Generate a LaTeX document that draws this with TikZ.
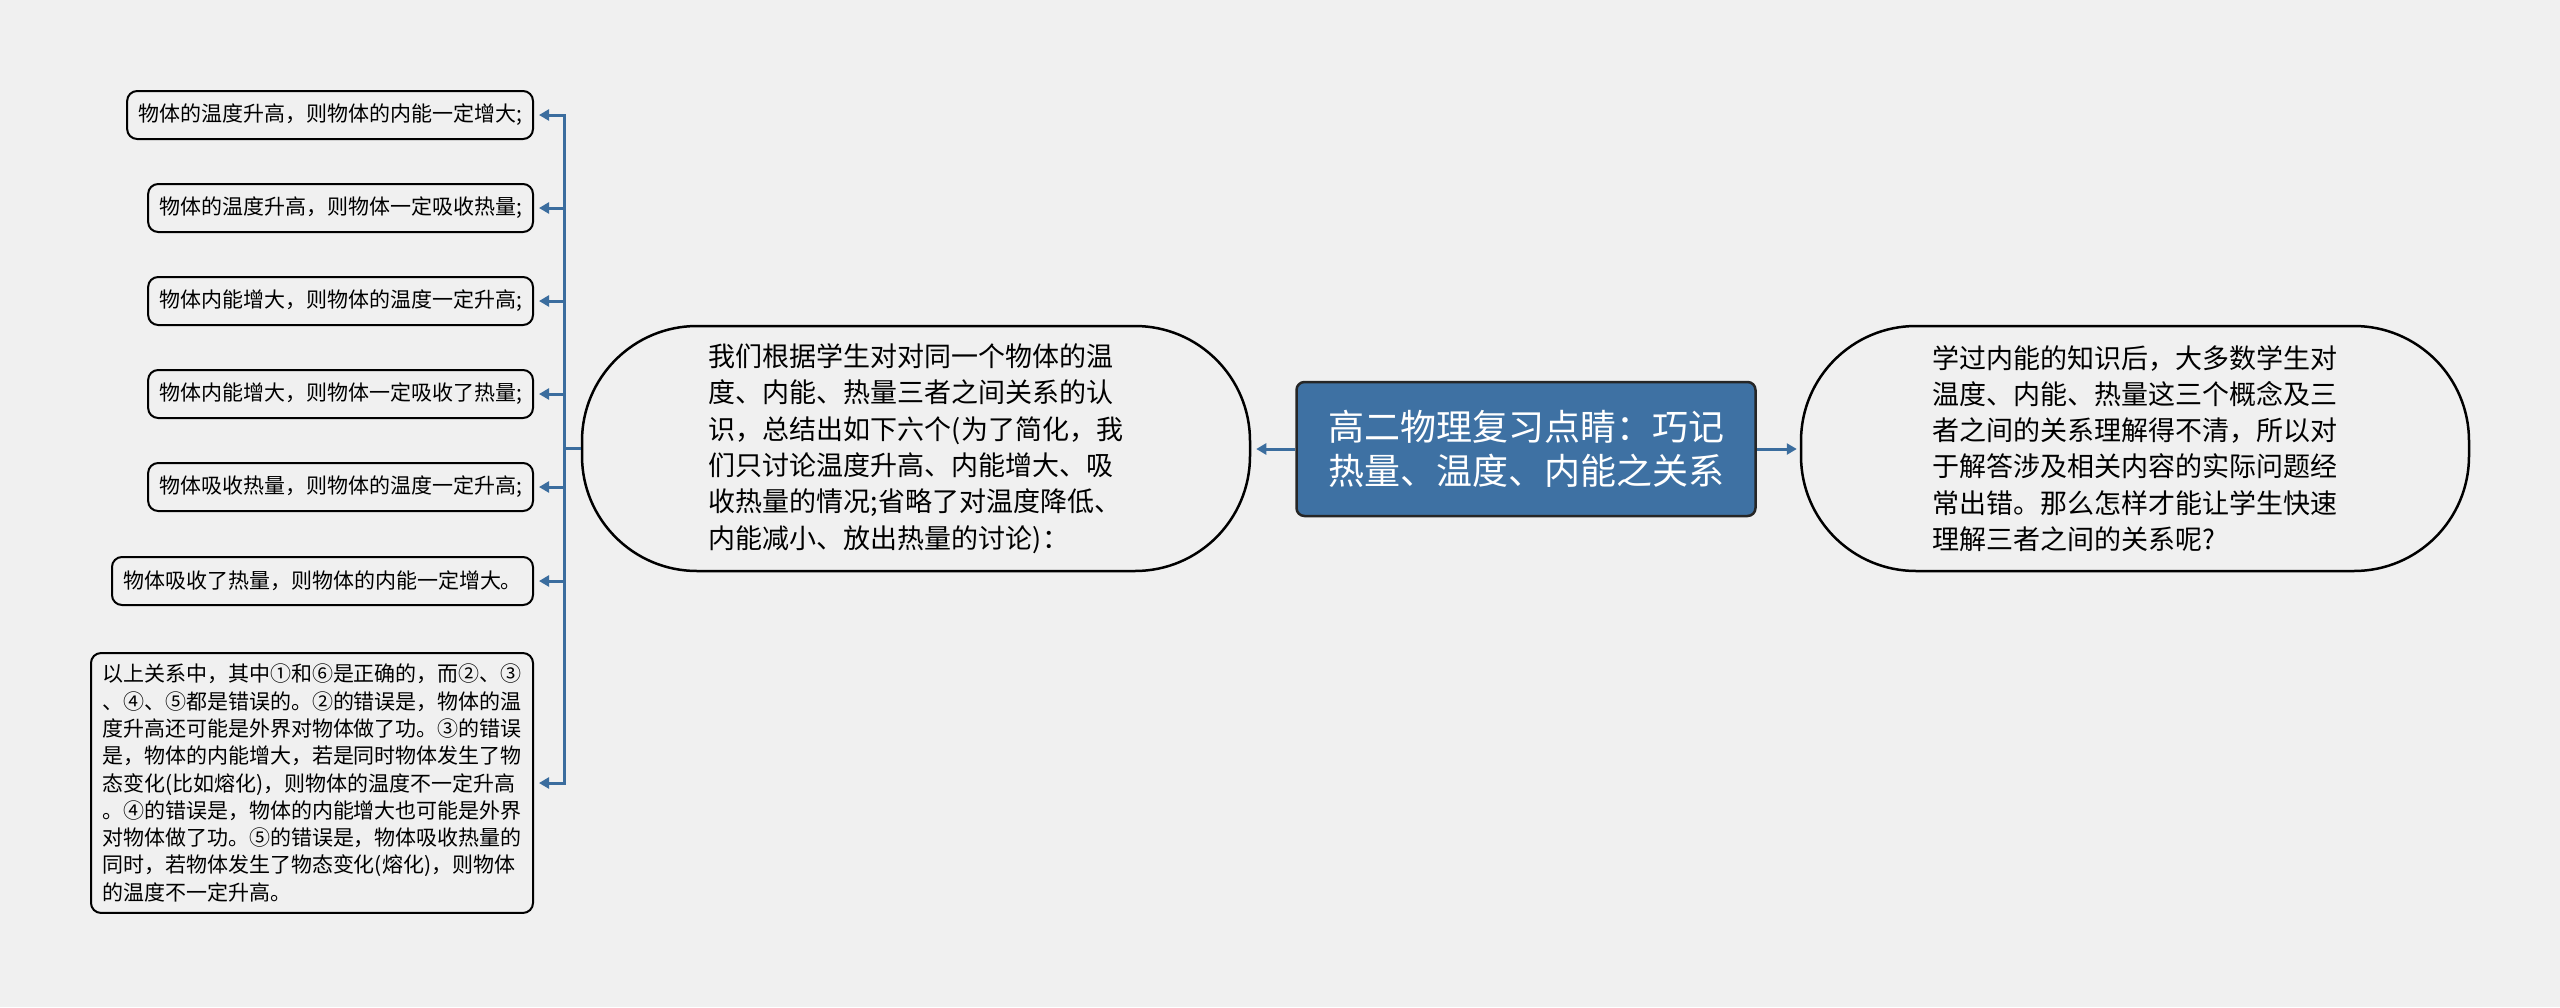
\documentclass[tikz,border=0pt]{standalone}
\usepackage{fontspec}
\setmainfont{Noto Sans CJK SC}
\usetikzlibrary{arrows.meta}
\definecolor{bg}{HTML}{F0F0F0}
\definecolor{lineblue}{HTML}{3B6D9E}
\definecolor{rootblue}{HTML}{3E71A3}
\begin{document}
\begin{tikzpicture}[x=1pt,y=-1pt,
  conn/.style={draw=lineblue,line width=3pt,-{Triangle[length=10pt,width=11pt]}},
  leaf/.style={draw=black,line width=2pt,rounded corners=10pt,fill=bg,
    font=\fontsize{21}{27.3}\selectfont,align=left,inner xsep=11pt,inner ysep=0pt,
    minimum height=48pt,anchor=east},
  bubble/.style={draw=black,line width=2.5pt,rounded corners=115pt,fill=bg,
    font=\fontsize{27}{36.3}\selectfont,align=left,minimum width=668pt,
    minimum height=245pt,inner sep=0pt},
  rootbox/.style={draw=black!85,line width=2.5pt,rounded corners=8pt,fill=rootblue,
    text=white,font=\fontsize{36}{44}\selectfont,align=center,
    minimum width=459pt,minimum height=134pt,inner sep=0pt}
]
\fill[bg] (0,0) rectangle (2560,1007);
\useasboundingbox (0,0) rectangle (2560,1007);

\node[rootbox] (R) at (1526,449) {高二物理复习点睛：巧记\\热量、温度、内能之关系};

\node[bubble] (L) at (916,448.5) {我们根据学生对对同一个物体的温\\度、内能、热量三者之间关系的认\\识，总结出如下六个(为了简化，我\\们只讨论温度升高、内能增大、吸\\收热量的情况;省略了对温度降低、\\内能减小、放出热量的讨论)：};

\node[bubble] (Q) at (2135,448.5) {学过内能的知识后，大多数学生对\\温度、内能、热量这三个概念及三\\者之间的关系理解得不清，所以对\\于解答涉及相关内容的实际问题经\\常出错。那么怎样才能让学生快速\\理解三者之间的关系呢?};

\node[leaf] (b1) at (534,115) {物体的温度升高，则物体的内能一定增大;};
\node[leaf] (b2) at (534,208) {物体的温度升高，则物体一定吸收热量;};
\node[leaf] (b3) at (534,301) {物体内能增大，则物体的温度一定升高;};
\node[leaf] (b4) at (534,394) {物体内能增大，则物体一定吸收了热量;};
\node[leaf] (b5) at (534,487) {物体吸收热量，则物体的温度一定升高;};
\node[leaf] (b6) at (534,581) {物体吸收了热量，则物体的内能一定增大。};
\node[leaf,inner ysep=11pt] (b7) at (534,783) {以上关系中，其中①和⑥是正确的，而②、③\\、④、⑤都是错误的。②的错误是，物体的温\\度升高还可能是外界对物体做了功。③的错误\\是，物体的内能增大，若是同时物体发生了物\\态变化(比如熔化)，则物体的温度不一定升高\\。④的错误是，物体的内能增大也可能是外界\\对物体做了功。⑤的错误是，物体吸收热量的\\同时，若物体发生了物态变化(熔化)，则物体\\的温度不一定升高。};

\draw[conn,shorten >=5pt] (R.west) -- (R.west -| L.east);
\draw[conn,shorten >=3pt] (R.east) -- (R.east -| Q.west);

\coordinate (bus) at (564,448.5);
\foreach \b in {b1,b2,b3,b4,b5,b6,b7}
  \draw[conn,shorten >=5pt] (L.west) -- (bus) |- (\b.east);
\end{tikzpicture}
\end{document}
